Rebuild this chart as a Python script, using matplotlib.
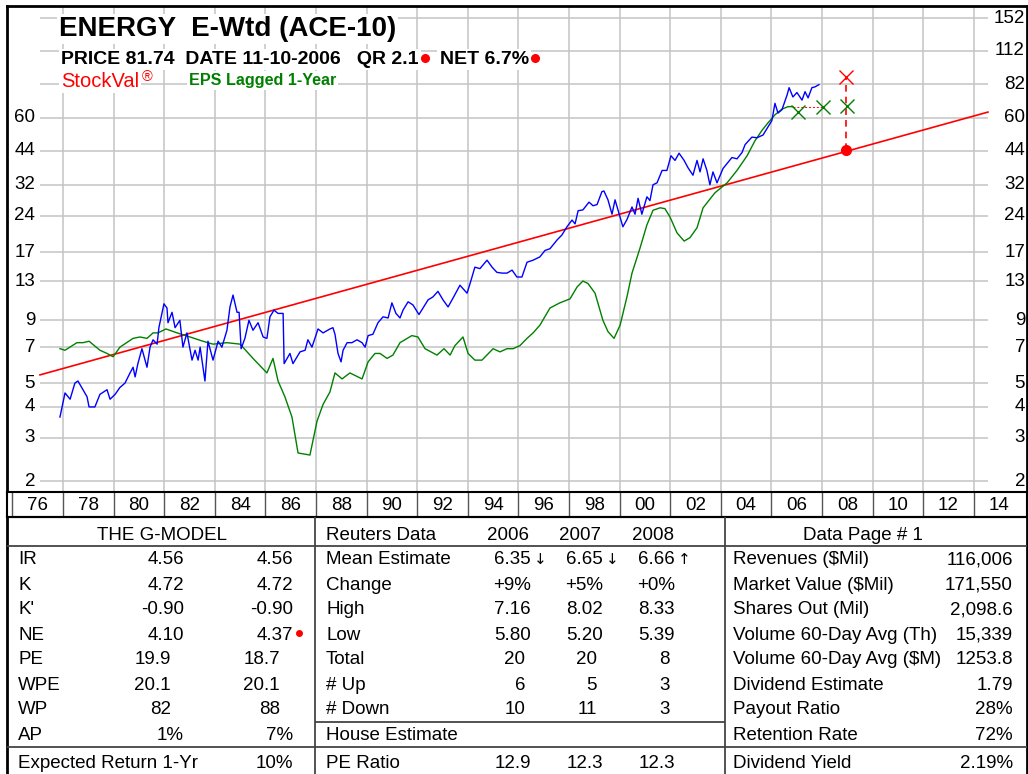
import matplotlib
matplotlib.use("Agg")
import matplotlib.pyplot as plt

plt.rcParams["font.family"] = ["Liberation Sans", "DejaVu Sans"]

# ---- data (year, value on log scale) ----
price_years = [
    1976.88, 1977.08, 1977.28, 1977.47, 1977.59, 1977.79, 1977.95, 1978.03, 1978.26, 1978.46,
    1978.74, 1978.86, 1979.06, 1979.25, 1979.45, 1979.65, 1979.77, 1979.85, 1979.96, 1980.12,
    1980.32, 1980.44, 1980.56, 1980.72, 1980.79, 1980.91, 1980.99, 1981.11, 1981.15, 1981.31,
    1981.43, 1981.62, 1981.74, 1981.90, 1982.10, 1982.22, 1982.34, 1982.42, 1982.61, 1982.73,
    1982.93, 1983.13, 1983.28, 1983.48, 1983.60, 1983.72, 1983.88, 1983.96, 1984.04, 1984.19,
    1984.35, 1984.51, 1984.71, 1984.91, 1985.06, 1985.18, 1985.34, 1985.50, 1985.70, 1985.74,
    1985.97, 1986.09, 1986.37, 1986.57, 1986.68, 1986.84, 1987.08, 1987.28, 1987.55, 1987.67,
    1987.75, 1987.87, 1987.99, 1988.07, 1988.23, 1988.42, 1988.62, 1988.82, 1988.94, 1989.06,
    1989.25, 1989.45, 1989.65, 1989.85, 1990.00, 1990.16, 1990.32, 1990.44, 1990.64, 1990.83,
    1991.07, 1991.23, 1991.43, 1991.62, 1991.82, 1992.02, 1992.22, 1992.42, 1992.69, 1992.97,
    1993.09, 1993.28, 1993.48, 1993.76, 1993.96, 1994.15, 1994.35, 1994.55, 1994.75, 1994.94,
    1995.14, 1995.34, 1995.58, 1995.85, 1996.05, 1996.25, 1996.53, 1996.72, 1996.92, 1997.12,
    1997.24, 1997.36, 1997.55, 1997.79, 1997.95, 1998.11, 1998.30, 1998.38, 1998.54, 1998.70,
    1998.82, 1998.94, 1999.13, 1999.29, 1999.49, 1999.61, 1999.73, 1999.88, 2000.08, 2000.20,
    2000.32, 2000.48, 2000.68, 2000.87, 2001.03, 2001.19, 2001.35, 2001.55, 2001.70, 2001.90,
    2002.06, 2002.18, 2002.30, 2002.45, 2002.57, 2002.69, 2002.85, 2003.09, 2003.44, 2003.64,
    2003.84, 2003.96, 2004.23, 2004.43, 2004.67, 2005.02, 2005.14, 2005.26, 2005.42, 2005.62,
    2005.70, 2005.85, 2006.01, 2006.21, 2006.33, 2006.45, 2006.60, 2006.72, 2006.88,
]
price_values = [
    3.64, 4.56, 4.3, 5.0, 5.1, 4.7, 4.4, 4.0, 4.0, 4.5,
    4.7, 4.3, 4.5, 4.8, 5.0, 5.5, 5.8, 5.3, 6.0, 6.9,
    5.8, 7.0, 7.5, 7.2, 8.4, 9.6, 10.5, 10.1, 8.8, 9.7,
    8.4, 9.0, 7.0, 8.0, 6.2, 6.8, 6.2, 7.0, 5.1, 7.4,
    6.2, 7.4, 7.0, 8.2, 10.2, 11.4, 9.7, 9.7, 6.9, 7.6,
    9.0, 8.2, 8.8, 7.7, 7.6, 9.3, 9.9, 9.6, 9.6, 6.0,
    6.6, 6.0, 6.7, 6.8, 7.5, 7.0, 8.3, 8.0, 8.3, 8.4,
    7.9, 6.6, 6.1, 6.8, 7.3, 7.3, 7.5, 7.3, 7.0, 7.8,
    7.9, 8.8, 9.3, 9.2, 10.6, 9.6, 9.2, 9.9, 10.7, 10.4,
    9.5, 10.1, 10.9, 11.2, 11.8, 10.9, 10.2, 11.1, 12.5, 11.6,
    12.7, 14.8, 14.6, 15.8, 14.8, 14.1, 14.0, 14.0, 14.4, 13.5,
    13.5, 15.5, 15.8, 16.3, 17.3, 17.6, 19.1, 20.0, 21.6, 23.0,
    22.2, 25.1, 25.3, 27.2, 26.3, 26.6, 30.0, 30.2, 27.8, 24.3,
    27.8, 25.2, 21.6, 23.1, 26.0, 24.3, 28.2, 24.3, 28.6, 27.6,
    32.0, 32.6, 36.6, 36.6, 42.0, 40.2, 43.0, 40.2, 37.6, 35.0,
    40.2, 36.1, 40.8, 36.6, 32.0, 36.1, 32.6, 37.3, 41.3, 40.8,
    43.3, 46.6, 50.0, 49.7, 51.0, 58.4, 68.6, 62.6, 64.7, 74.2,
    79.4, 72.8, 75.9, 70.7, 76.5, 72.2, 79.4, 80.0, 81.7,
]

eps_years = [
    1976.88, 1977.08, 1977.55, 1977.79, 1978.03, 1978.46, 1978.74, 1978.98, 1979.25, 1979.77,
    1980.04, 1980.32, 1980.56, 1980.75, 1981.07, 1981.51, 1982.02, 1982.53, 1982.93, 1983.48,
    1984.00, 1984.51, 1985.06, 1985.30, 1985.50, 1985.77, 1986.05, 1986.29, 1986.76, 1987.04,
    1987.28, 1987.55, 1987.75, 1988.03, 1988.34, 1988.82, 1989.06, 1989.33, 1989.53, 1989.81,
    1990.04, 1990.32, 1990.79, 1991.03, 1991.31, 1991.78, 1992.06, 1992.30, 1992.49, 1992.81,
    1993.01, 1993.28, 1993.56, 1994.00, 1994.27, 1994.55, 1994.79, 1995.06, 1995.34, 1995.58,
    1995.85, 1996.25, 1996.64, 1997.04, 1997.32, 1997.55, 1997.75, 1998.03, 1998.34, 1998.54,
    1998.78, 1999.02, 1999.29, 1999.49, 1999.80, 2000.08, 2000.32, 2000.60, 2000.79, 2000.99,
    2001.27, 2001.55, 2001.78, 2002.06, 2002.30, 2002.77, 2003.25, 2003.64, 2004.04, 2004.35,
    2004.63, 2004.87, 2005.14, 2005.42, 2005.66, 2005.85,
]
eps_values = [
    6.9, 6.8, 7.3, 7.3, 7.4, 6.8, 6.6, 6.4, 7.0, 7.6,
    7.7, 7.6, 8.0, 8.0, 8.3, 8.0, 7.7, 7.4, 7.2, 7.3,
    7.2, 6.3, 5.5, 6.3, 5.1, 4.4, 3.64, 2.6, 2.55, 3.5,
    4.1, 4.6, 5.5, 5.2, 5.5, 5.2, 6.1, 6.6, 6.6, 6.3,
    6.5, 7.3, 7.8, 7.7, 6.9, 6.5, 6.9, 6.5, 7.1, 7.7,
    6.6, 6.2, 6.2, 6.9, 6.7, 6.9, 6.9, 7.1, 7.6, 8.0,
    8.6, 10.1, 10.6, 11.0, 12.3, 13.0, 12.7, 11.6, 9.0, 8.1,
    7.6, 8.6, 11.2, 14.0, 17.6, 22.0, 25.2, 25.8, 25.6, 23.7,
    20.4, 18.9, 19.5, 21.4, 25.8, 29.7, 32.6, 36.6, 42.0, 48.3,
    53.3, 57.2, 61.6, 65.0, 66.5, 66.5,
]

trend_years = [1976.09, 2013.56]
trend_values = [5.4, 63.2]

est_years = [2006.05, 2007.04, 2007.99]
est_values = [63.2, 66.5, 66.9]
target_year = 2007.94
wp_value = 88.0
fair_value = 44.4

y_ticks = [2, 3, 4, 5, 7, 9, 13, 17, 24, 32, 44, 60, 82, 112, 152]
left_ticks = [2, 3, 4, 5, 7, 9, 13, 17, 24, 32, 44, 60]
label_years = list(range(1976, 2015, 2))
grid_years = list(range(1977, 2014, 2))

# tables
gm_rows = ["IR", "K", "K'", "NE", "PE", "WPE", "WP", "AP"]
gm_now = ["4.56", "4.72", "-0.90", "4.10", "19.9", "20.1", "82", "1%"]
gm_next = ["4.56", "4.72", "-0.90", "4.37", "18.7", "20.1", "88", "7%"]
gm_shift = [0, 0, 0, 0, 13, 13, 13, 0]
expected_return = "10%"

rt_years = ["2006", "2007", "2008"]
rt_mean = ["6.35", "6.65", "6.66"]
rt_dir = ["\u2193", "\u2193", "\u2191"]
rt_rows = ["Change", "High", "Low", "Total", "# Up", "# Down"]
rt_vals = [
    ["+9%", "+5%", "+0%"],
    ["7.16", "8.02", "8.33"],
    ["5.80", "5.20", "5.39"],
    ["20", "20", "8"],
    ["6", "5", "3"],
    ["10", "11", "3"],
]
pe_ratio = ["12.9", "12.3", "12.3"]

dp_rows = ["Revenues (\\$Mil)", "Market Value (\\$Mil)", "Shares Out (Mil)",
           "Volume 60-Day Avg (Th)", "Volume 60-Day Avg (\\$M)", "Dividend Estimate",
           "Payout Ratio", "Retention Rate"]
dp_vals = ["116,006", "171,550", "2,098.6", "15,339", "1253.8", "1.79", "28%", "72%"]
div_yield = "2.19%"

# ---- layout (pixels) ----
W, H = 1028, 774
PX_YEAR = 25.3
X1977 = 63
FRAME_L, FRAME_R = 7, 1027
PLOT_T, PLOT_B = 6, 492
ROW_B = 517


def px_to_year(px):
    return 1977 + (px - X1977) / PX_YEAR


def py_to_val(py):
    return 2 * 10 ** ((481 - py) / 246)


fig = plt.figure(figsize=(W / 100, H / 100), dpi=100)
ax = fig.add_axes([FRAME_L / W, 1 - PLOT_B / H, (FRAME_R - FRAME_L) / W, (PLOT_B - PLOT_T) / H])
ax.set_yscale("log")
ax.set_xlim(px_to_year(FRAME_L), px_to_year(FRAME_R))
ax.set_ylim(py_to_val(PLOT_B), py_to_val(PLOT_T))
ax.set_xticks([])
ax.set_yticks([])
ax.minorticks_off()
for s in ax.spines.values():
    s.set_linewidth(2)
    s.set_color("black")

grid_c = "#c4c4c4"
ax.vlines(grid_years, py_to_val(PLOT_B), py_to_val(PLOT_T), color=grid_c, lw=1.1, zorder=1)
ax.hlines(y_ticks, px_to_year(40), px_to_year(988), color=grid_c, lw=1.1, zorder=1)

ax.plot(trend_years, trend_values, color="#ff0000", lw=1.2, zorder=3)
ax.plot(eps_years, eps_values, color="#008000", lw=1.0, zorder=4)
ax.plot(price_years, price_values, color="#0000ff", lw=1.0, zorder=5)
ax.plot([eps_years[-1], est_years[1]], [eps_values[-1], est_values[1]],
        color="#ff0000", lw=0.7, ls=(0, (2, 2)), zorder=4)
ax.plot([target_year, target_year], [fair_value, wp_value], color="#ff0000",
        lw=1.2, ls=(0, (4, 3)), zorder=4)
ax.plot(est_years, est_values, ls="none", marker="x", ms=10, mew=1.0,
        color="#008000", zorder=6)
ax.plot([target_year], [wp_value], ls="none", marker="x", ms=10, mew=1.0,
        color="#ff0000", zorder=6)
ax.plot([target_year], [fair_value], ls="none", marker="o", ms=7,
        color="#ff0000", zorder=6)

tf = ax.get_yaxis_transform()
for v in y_ticks:
    ax.text((1025 - FRAME_L) / (FRAME_R - FRAME_L), v, str(v), transform=tf,
            ha="right", va="center", fontsize=13.5)
for v in left_ticks:
    ax.text((35 - FRAME_L) / (FRAME_R - FRAME_L), v, str(v), transform=tf,
            ha="right", va="center", fontsize=13.5)

# year label row
axx = fig.add_axes([FRAME_L / W, 1 - ROW_B / H, (FRAME_R - FRAME_L) / W, (ROW_B - PLOT_B) / H])
axx.set_xlim(ax.get_xlim())
axx.set_ylim(0, 1)
axx.set_xticks([])
axx.set_yticks([])
for s in axx.spines.values():
    s.set_linewidth(1.5)
axx.vlines(grid_years, 0, 1, color="#555555", lw=1.0)
axx.vlines([px_to_year(12)], 0, 1, color="#555555", lw=1.0)
for y in label_years:
    axx.text(y, 0.45, f"{y % 100:02d}", ha="center", va="center", fontsize=13.5)

# overlay in pixel coordinates for title and tables
axt = fig.add_axes([0, 0, 1, 1])
axt.set_xlim(0, W)
axt.set_ylim(H, 0)
axt.axis("off")
fig.canvas.draw()
renderer = fig.canvas.get_renderer()

box = dict(facecolor="white", edgecolor="none", pad=1.5)


def run(x, y, parts):
    # lay text pieces left to right; None means a small red dot
    for s, kw in parts:
        if s is None:
            axt.plot([x + 6], [y - 6], marker="o", ms=5.5, color="#ff0000",
                     ls="none", zorder=10)
            x += 21
            continue
        t = axt.text(x, y, s, ha="left", va="baseline", bbox=box, zorder=5, **kw)
        x += t.get_window_extent(renderer).width


run(59, 36, [("ENERGY  E-Wtd (ACE-10)", dict(fontsize=20, fontweight="bold"))])
bold = dict(fontsize=14, fontweight="bold")
run(61, 64, [("PRICE 81.74  DATE 11-10-2006   QR 2.1", bold), (None, None),
             ("NET 6.7%", bold), (None, None)])
run(61, 87, [("StockVal", dict(fontsize=14.5, color="#ff0000"))])
axt.text(61 + 81, 81, "\u00ae", fontsize=10.5, color="#ff0000", ha="left", va="baseline")
run(189, 85, [("EPS Lagged 1-Year", dict(fontsize=11.6, fontweight="bold", color="#008000"))])

# tables
fs = 13.5
line_c = "#444444"
axt.hlines([ROW_B], FRAME_L, FRAME_R, color="black", lw=1.5)
axt.vlines([FRAME_L, FRAME_R], ROW_B, H, color="black", lw=2)
axt.vlines([315, 725], ROW_B, H, color=line_c, lw=1.3)
axt.hlines([546, 747], FRAME_L, FRAME_R, color=line_c, lw=1.3)
axt.hlines([722], 315, 725, color=line_c, lw=1.3)


def cell(x, yc, s, ha="left", **kw):
    kw.setdefault("fontsize", fs)
    axt.text(x, yc + 6.5, s, ha=ha, va="baseline", **kw)


row_y = [558 + 25 * i for i in range(8)]

cell(162, 533, "THE G-MODEL", ha="center")
for i, lab in enumerate(gm_rows):
    cell(18, row_y[i], lab)
    cell(184 - gm_shift[i], row_y[i], gm_now[i], ha="right")
    cell(293 - gm_shift[i], row_y[i], gm_next[i], ha="right")
axt.plot([299], [row_y[3]], marker="o", ms=4, color="#ff0000", ls="none")
cell(18, 761, "Expected Return 1-Yr")
cell(293, 761, expected_return, ha="right")

col_r = [531, 603, 675]
int_r = [525, 597, 670]
col_c = [508, 580, 653]
cell(326, 533, "Reuters Data")
for j, yr in enumerate(rt_years):
    cell(col_c[j], 533, yr, ha="center")
    cell(col_r[j], row_y[0], rt_mean[j], ha="right")
    cell(col_r[j] + 3, row_y[0], rt_dir[j], fontsize=11, family=["DejaVu Sans"])
cell(326, row_y[0], "Mean Estimate")
for i, lab in enumerate(rt_rows):
    y = row_y[i + 1]
    cell(326, y, lab)
    for j in range(3):
        v = rt_vals[i][j]
        xr = int_r[j] if v.isdigit() else col_r[j]
        cell(xr, y, v, ha="right")
cell(326, 734, "House Estimate")
cell(326, 761, "PE Ratio")
for j in range(3):
    cell(col_r[j], 761, pe_ratio[j], ha="right")

cell(863, 533, "Data Page # 1", ha="center")
for i, lab in enumerate(dp_rows):
    cell(733, row_y[i], lab)
    cell(1013, row_y[i], dp_vals[i], ha="right")
cell(733, 761, "Dividend Yield")
cell(1013, 761, div_yield, ha="right")

fig.savefig("out.png", dpi=100)
